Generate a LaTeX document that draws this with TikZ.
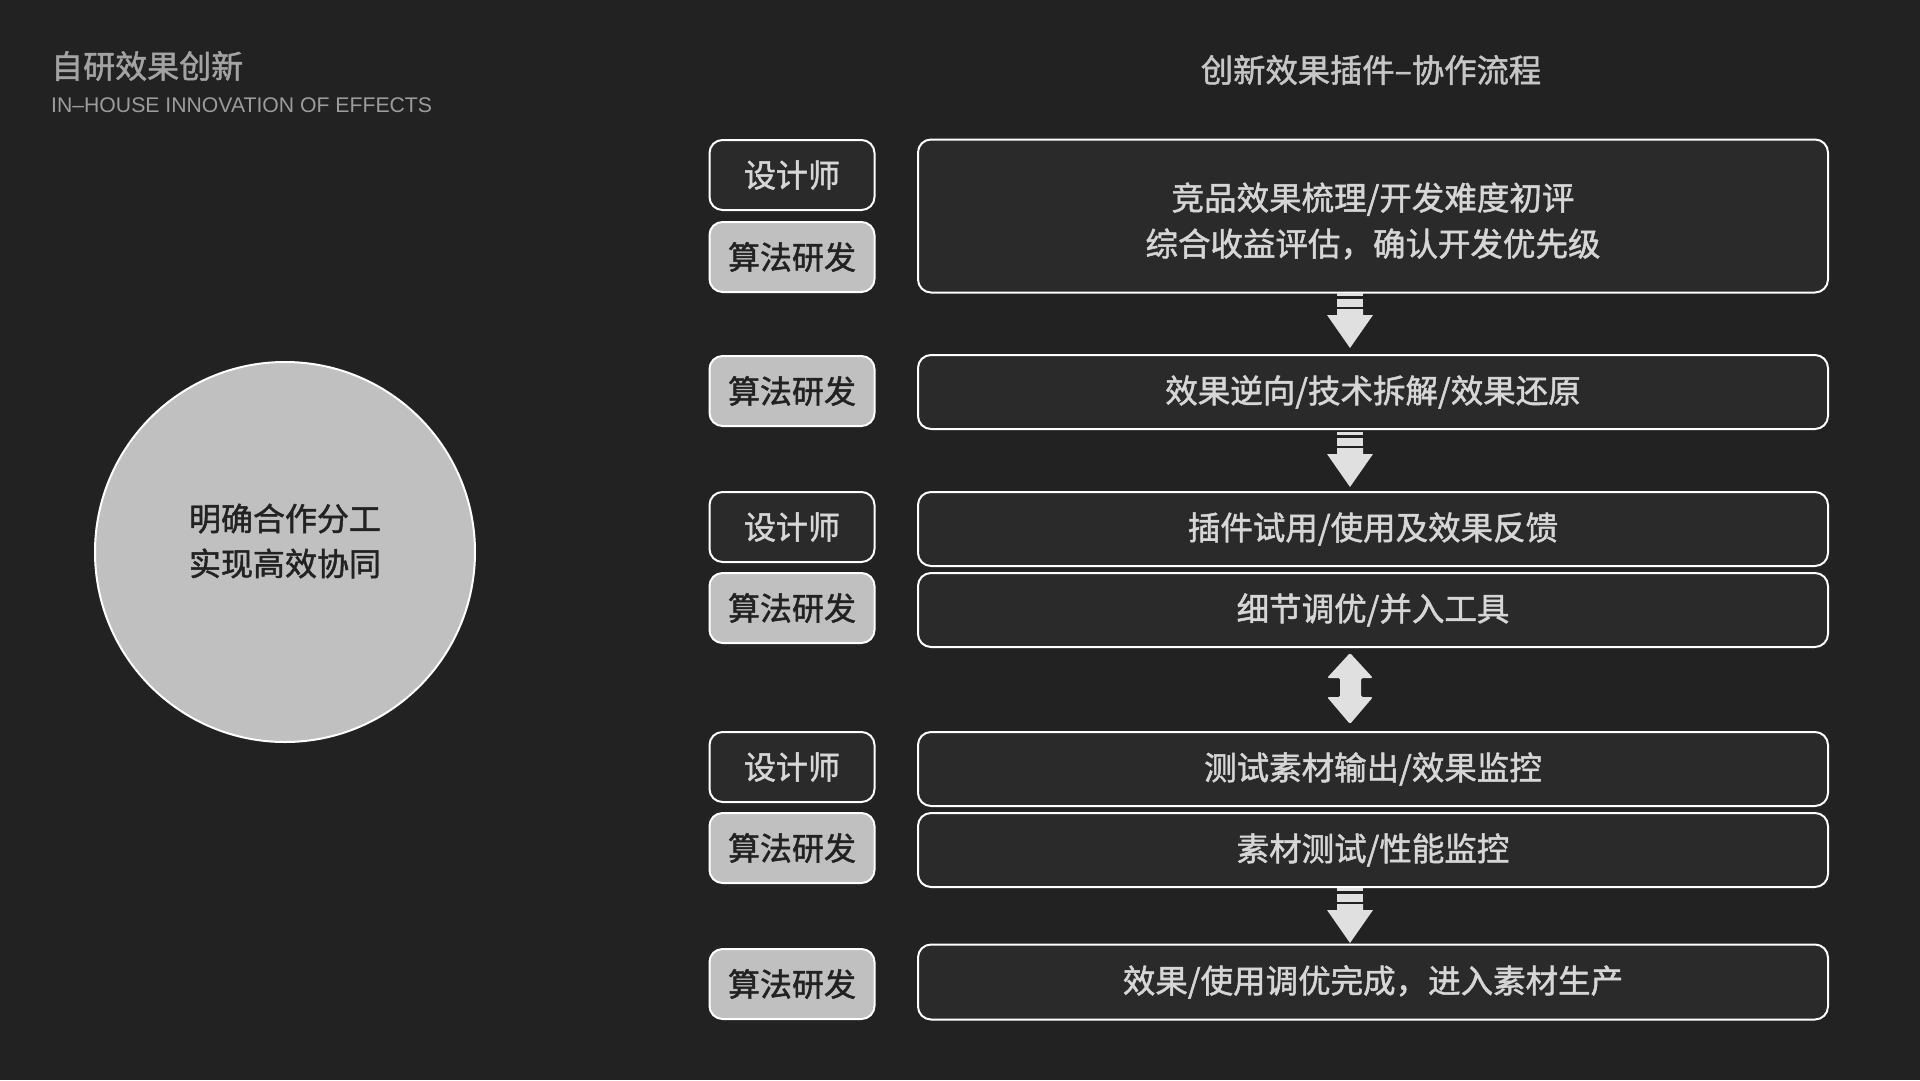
\documentclass[tikz,border=0pt]{standalone}
\usepackage{fontspec}
\setmainfont{Noto Sans CJK SC}[FakeBold=1.5]
\newfontfamily\latinfont{Liberation Sans}
\usetikzlibrary{calc}
\definecolor{bg}{HTML}{222222}
\definecolor{boxdark}{HTML}{2A2A2A}
\definecolor{boxgray}{HTML}{C0C0C0}
\definecolor{txtlight}{HTML}{D6D6D6}
\definecolor{txtdark}{HTML}{222222}
\definecolor{titlegray}{HTML}{A3A3A3}
\definecolor{subgray}{HTML}{9C9C9C}
\definecolor{headgray}{HTML}{C6C6C6}
\definecolor{arrowfill}{HTML}{E0E0E0}
\tikzset{
  rolebase/.style={draw=white, line width=2pt, rounded corners=13pt, minimum width=165pt, minimum height=70pt, inner sep=0pt, font=\fontsize{32}{38}\selectfont},
  roledesign/.style={rolebase, fill=boxdark, text=txtlight},
  rolealgo/.style={rolebase, fill=boxgray, text=txtdark},
  taskbox/.style={draw=white, line width=2pt, rounded corners=13pt, minimum width=910pt, inner sep=0pt, fill=boxdark, text=txtlight, font=\fontsize{32.5}{46}\selectfont, align=center},
  arrowshape/.style={fill=arrowfill, draw=none}
}
\newcommand{\blockdown}[2]{% #1 x, #2 tip y
  \fill[arrowshape] (#1-13,#2-55) rectangle (#1+13,#2-52);
  \fill[arrowshape] (#1-13,#2-49) rectangle (#1+13,#2-41);
  \fill[arrowshape] (#1-13,#2-39) -- (#1+13,#2-39) -- (#1+13,#2-33) -- (#1+23,#2-33) -- (#1,#2) -- (#1-23,#2-33) -- (#1-13,#2-33) -- cycle;
}
\begin{document}
\begin{tikzpicture}[x=1pt,y=-1pt]
\fill[bg] (0,0) rectangle (1920,1080);
\useasboundingbox (0,0) rectangle (1920,1080);

% titles
\node[anchor=west, text=titlegray, font=\fontsize{32}{38}\selectfont, inner sep=0pt] (title) at (51,66) {自研效果创新};
\node[anchor=west, text=subgray, font=\fontsize{21.2}{24}\latinfont\selectfont, inner sep=0pt] (subtitle) at (51,105) {IN–HOUSE INNOVATION OF EFFECTS};
\node[text=headgray, font=\fontsize{32.3}{38}\selectfont, inner sep=0pt] (head) at (1371,70) {创新效果插件–协作流程};

% circle
\node[circle, draw=white, line width=2pt, fill=boxgray, minimum size=380pt, inner sep=0pt] (circ) at (285,552) {};
\node[text=txtdark, align=center, font=\fontsize{32}{45}\selectfont, inner sep=0pt] (circtext) at (285,541) {明确合作分工\\实现高效协同};

% left role boxes
\node[roledesign] (l1) at (792,175) {设计师};
\node[rolealgo]   (l2) at (792,257) {算法研发};
\node[rolealgo]   (l3) at (792,391) {算法研发};
\node[roledesign] (l4) at (792,527) {设计师};
\node[rolealgo]   (l5) at (792,608) {算法研发};
\node[roledesign] (l6) at (792,767) {设计师};
\node[rolealgo]   (l7) at (792,848) {算法研发};
\node[rolealgo]   (l8) at (792,984) {算法研发};

% right task boxes
\node[taskbox, minimum height=153pt] (r1) at (1373,216) {};
\node[text=txtlight, font=\fontsize{32.5}{46}\selectfont, align=center, inner sep=0pt] (r1text) at (1373,221) {竞品效果梳理/开发难度初评\\综合收益评估，确认开发优先级};
\node[taskbox, minimum height=74pt] (r2) at (1373,392) {效果逆向/技术拆解/效果还原};
\node[taskbox, minimum height=74pt] (r3) at (1373,529) {插件试用/使用及效果反馈};
\node[taskbox, minimum height=74pt] (r4) at (1373,610) {细节调优/并入工具};
\node[taskbox, minimum height=74pt] (r5) at (1373,769) {测试素材输出/效果监控};
\node[taskbox, minimum height=74pt] (r6) at (1373,850) {素材测试/性能监控};
\node[taskbox, minimum height=75pt] (r7) at (1373,982) {效果/使用调优完成，进入素材生产};

% block arrows
\blockdown{1350}{348}
\blockdown{1350}{487}
\blockdown{1350}{943}
\fill[arrowshape, rounded corners=1.5pt] (1350,653) -- (1373,678) -- (1361,678) -- (1361,697) -- (1373,697) -- (1350,724) -- (1327,697) -- (1340,697) -- (1340,678) -- (1327,678) -- cycle;
\end{tikzpicture}
\end{document}
